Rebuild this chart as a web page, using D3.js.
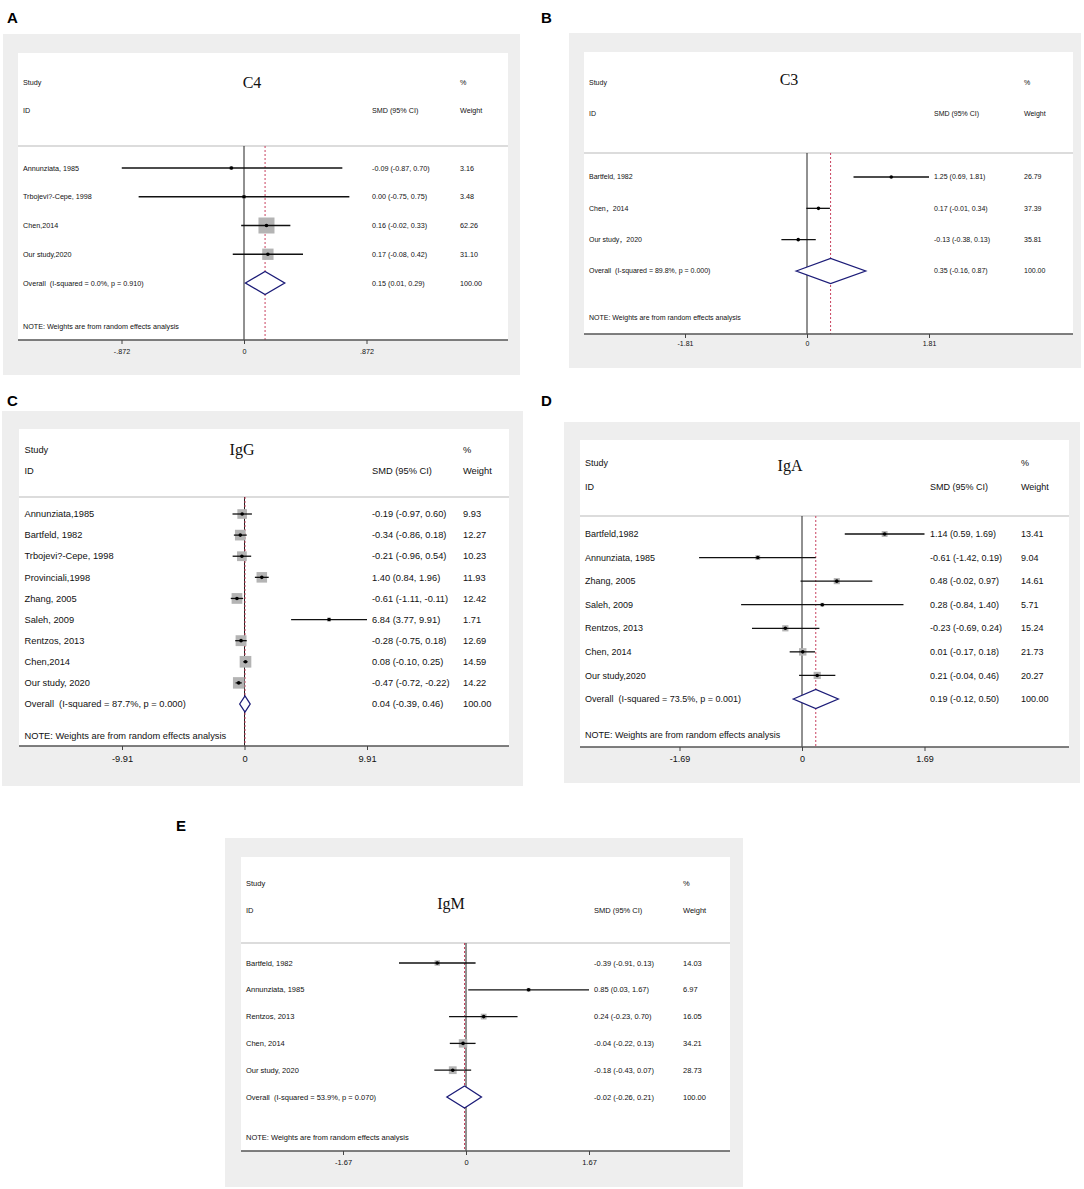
<!DOCTYPE html>
<html><head><meta charset="utf-8">
<script src="https://cdn.jsdelivr.net/npm/d3@7"></script>
<style>
body{margin:0;background:#fff}
text{white-space:pre}
</style></head>
<body>
<svg id="chart" width="1084" height="1189"></svg>
<script>
// ---------- DATA ----------
// Panel A : C4
const c4Studies = ["Annunziata, 1985", "Trbojevi?-Cepe, 1998", "Chen,2014", "Our study,2020"];
const c4Smd     = [-0.09, 0.00, 0.16, 0.17];
const c4Lower   = [-0.87, -0.75, -0.02, -0.08];
const c4Upper   = [0.70, 0.75, 0.33, 0.42];
const c4Weight  = [3.16, 3.48, 62.26, 31.10];
const c4Overall = [0.15, 0.01, 0.29];
const c4Het     = ["0.0%", "0.910"];
const c4Ticks   = [-0.872, 0, 0.872];
const c4TickLabels = ["-.872", "0", ".872"];

// Panel B : C3
const c3Studies = ["Bartfeld, 1982", "Chen，2014", "Our study，2020"];
const c3Smd     = [1.25, 0.17, -0.13];
const c3Lower   = [0.69, -0.01, -0.38];
const c3Upper   = [1.81, 0.34, 0.13];
const c3Weight  = [26.79, 37.39, 35.81];
const c3Overall = [0.35, -0.16, 0.87];
const c3Het     = ["89.8%", "0.000"];
const c3Ticks   = [-1.81, 0, 1.81];
const c3TickLabels = ["-1.81", "0", "1.81"];

// Panel C : IgG
const iggStudies = ["Annunziata,1985", "Bartfeld, 1982", "Trbojevi?-Cepe, 1998", "Provinciali,1998",
  "Zhang, 2005", "Saleh, 2009", "Rentzos, 2013", "Chen,2014", "Our study, 2020"];
const iggSmd    = [-0.19, -0.34, -0.21, 1.40, -0.61, 6.84, -0.28, 0.08, -0.47];
const iggLower  = [-0.97, -0.86, -0.96, 0.84, -1.11, 3.77, -0.75, -0.10, -0.72];
const iggUpper  = [0.60, 0.18, 0.54, 1.96, -0.11, 9.91, 0.18, 0.25, -0.22];
const iggWeight = [9.93, 12.27, 10.23, 11.93, 12.42, 1.71, 12.69, 14.59, 14.22];
const iggOverall = [0.04, -0.39, 0.46];
const iggHet    = ["87.7%", "0.000"];
const iggTicks  = [-9.91, 0, 9.91];
const iggTickLabels = ["-9.91", "0", "9.91"];

// Panel D : IgA
const igaStudies = ["Bartfeld,1982", "Annunziata, 1985", "Zhang, 2005", "Saleh, 2009",
  "Rentzos, 2013", "Chen, 2014", "Our study,2020"];
const igaSmd    = [1.14, -0.61, 0.48, 0.28, -0.23, 0.01, 0.21];
const igaLower  = [0.59, -1.42, -0.02, -0.84, -0.69, -0.17, -0.04];
const igaUpper  = [1.69, 0.19, 0.97, 1.40, 0.24, 0.18, 0.46];
const igaWeight = [13.41, 9.04, 14.61, 5.71, 15.24, 21.73, 20.27];
const igaOverall = [0.19, -0.12, 0.50];
const igaHet    = ["73.5%", "0.001"];
const igaTicks  = [-1.69, 0, 1.69];
const igaTickLabels = ["-1.69", "0", "1.69"];

// Panel E : IgM
const igmStudies = ["Bartfeld, 1982", "Annunziata, 1985", "Rentzos, 2013", "Chen, 2014", "Our study, 2020"];
const igmSmd    = [-0.39, 0.85, 0.24, -0.04, -0.18];
const igmLower  = [-0.91, 0.03, -0.23, -0.22, -0.43];
const igmUpper  = [0.13, 1.67, 0.70, 0.13, 0.07];
const igmWeight = [14.03, 6.97, 16.05, 34.21, 28.73];
const igmOverall = [-0.02, -0.26, 0.21];
const igmHet    = ["53.9%", "0.070"];
const igmTicks  = [-1.67, 0, 1.67];
const igmTickLabels = ["-1.67", "0", "1.67"];

const panelLetters = ["A", "B", "C", "D", "E"];
const panelTitles  = ["C4", "C3", "IgG", "IgA", "IgM"];

// ---------- LAYOUT (pixel geometry only) ----------
const layouts = [
  {letter:[7,18], gray:[3,34,520,375], white:[18,53,508,340], sep:146, studyY:82, idY:110, title:[252,82],
   firstRow:168, overallY:283, noteY:326, tickY:351, x0:244, tickPx:122.5, textX:23, smdX:372, wX:460,
   font:7.2, boxK:2.03, diamondH:11.5},
  {letter:[541,18], gray:[569,33,1081,368], white:[584,52,1073,334], sep:153, studyY:83, idY:114, title:[789,79],
   firstRow:177, overallY:271, noteY:318, tickY:344, x0:807, tickPx:122, textX:589, smdX:934, wX:1024,
   font:7.0, boxK:0, diamondH:12.5},
  {letter:[7,401], gray:[2,411,523,786], white:[19,429,509,746], sep:497, studyY:450, idY:471, title:[242,449],
   firstRow:514, overallY:704, noteY:736, tickY:759, x0:244.5, tickPx:122.5, textX:24.5, smdX:372, wX:463,
   font:9.3, boxK:3.05, diamondH:8},
  {letter:[541,401], gray:[564,422,1080,783], white:[580,440,1069,747], sep:516, studyY:463, idY:487, title:[790,465],
   firstRow:534, overallY:699, noteY:735, tickY:759, x0:802, tickPx:122.5, textX:585, smdX:930, wX:1021,
   font:9.0, boxK:1.6, diamondH:9.5},
  {letter:[176,826], gray:[225,838,743,1187], white:[241,857,730,1151], sep:943, studyY:883, idY:910, title:[451,903],
   firstRow:963, overallY:1097, noteY:1137, tickY:1162, x0:466, tickPx:123, textX:246, smdX:594, wX:683,
   font:7.5, boxK:1.45, diamondH:11}
];

const panelData = [
  {studies:c4Studies, smd:c4Smd, lo:c4Lower, hi:c4Upper, w:c4Weight, overall:c4Overall, het:c4Het, ticks:c4Ticks, tickLabels:c4TickLabels},
  {studies:c3Studies, smd:c3Smd, lo:c3Lower, hi:c3Upper, w:c3Weight, overall:c3Overall, het:c3Het, ticks:c3Ticks, tickLabels:c3TickLabels},
  {studies:iggStudies, smd:iggSmd, lo:iggLower, hi:iggUpper, w:iggWeight, overall:iggOverall, het:iggHet, ticks:iggTicks, tickLabels:iggTickLabels},
  {studies:igaStudies, smd:igaSmd, lo:igaLower, hi:igaUpper, w:igaWeight, overall:igaOverall, het:igaHet, ticks:igaTicks, tickLabels:igaTickLabels},
  {studies:igmStudies, smd:igmSmd, lo:igmLower, hi:igmUpper, w:igmWeight, overall:igmOverall, het:igmHet, ticks:igmTicks, tickLabels:igmTickLabels}
];

const svg = d3.select("#chart");
const f2 = v => v.toFixed(2);
const SANS = "'Liberation Sans', Arial, 'Noto Sans CJK SC', sans-serif";
const SERIF = "'Liberation Serif', 'Times New Roman', serif";

function drawPanel(L, D, letter, title) {
  const g = svg.append("g");
  // panel letter
  g.append("text").attr("x", L.letter[0]).attr("y", L.letter[1]).attr("dy", "0.36em")
    .attr("font-family", SANS).attr("font-weight", "bold").attr("font-size", 15).attr("fill", "#000").text(letter);
  // backgrounds
  g.append("rect").attr("x", L.gray[0]).attr("y", L.gray[1]).attr("width", L.gray[2]-L.gray[0])
    .attr("height", L.gray[3]-L.gray[1]).attr("fill", "#eeeeee");
  g.append("rect").attr("x", L.white[0]).attr("y", L.white[1]).attr("width", L.white[2]-L.white[0])
    .attr("height", L.white[3]-L.white[1]).attr("fill", "#ffffff");
  // separator
  g.append("line").attr("x1", L.white[0]).attr("x2", L.white[2]).attr("y1", L.sep).attr("y2", L.sep)
    .attr("stroke", "#dcdcdc").attr("stroke-width", 2);

  const t = D.ticks[2];
  const x = d3.scaleLinear().domain([-t, t]).range([L.x0 - L.tickPx, L.x0 + L.tickPx]);
  const rows = D.studies.concat(["__overall__"]);
  const y = d3.scalePoint().domain(rows).range([L.firstRow, L.overallY]);

  const txt = (xx, yy, s, opts={}) => g.append("text").attr("x", xx).attr("y", yy).attr("dy", "0.35em")
    .attr("font-family", opts.serif ? SERIF : SANS).attr("font-size", opts.size || L.font)
    .attr("text-anchor", opts.anchor || "start").attr("fill", "#111").text(s);

  // header
  txt(L.textX, L.studyY, "Study");
  txt(L.textX, L.idY, "ID");
  txt(L.wX, L.studyY, "%");
  txt(L.wX, L.idY, "Weight");
  txt(L.smdX, L.idY, "SMD (95% CI)");
  txt(L.title[0], L.title[1], title, {serif:true, size:16, anchor:"middle"});

  // zero line
  g.append("line").attr("x1", x(0)).attr("x2", x(0)).attr("y1", L.sep).attr("y2", L.white[3])
    .attr("stroke", "#222").attr("stroke-width", 1);
  // overall dashed line
  g.append("line").attr("x1", x(D.overall[0])).attr("x2", x(D.overall[0])).attr("y1", L.sep).attr("y2", L.white[3])
    .attr("stroke", "#c8405e").attr("stroke-width", 1).attr("stroke-dasharray", "2,2");

  // study rows
  const idx = d3.range(D.studies.length);
  g.selectAll(".box").data(idx).join("rect")
    .attr("x", i => x(D.smd[i]) - L.boxK*Math.sqrt(D.w[i])/2)
    .attr("y", i => y(D.studies[i]) - L.boxK*Math.sqrt(D.w[i])/2)
    .attr("width", i => L.boxK*Math.sqrt(D.w[i]))
    .attr("height", i => L.boxK*Math.sqrt(D.w[i]))
    .attr("fill", "#b4b4b4");
  g.selectAll(".ci").data(idx).join("line")
    .attr("x1", i => x(D.lo[i])).attr("x2", i => x(D.hi[i]))
    .attr("y1", i => y(D.studies[i])).attr("y2", i => y(D.studies[i]))
    .attr("stroke", "#111").attr("stroke-width", 1.3);
  g.selectAll(".pt").data(idx).join("circle")
    .attr("cx", i => x(D.smd[i])).attr("cy", i => y(D.studies[i])).attr("r", 1.8).attr("fill", "#000");
  idx.forEach(i => {
    const yy = y(D.studies[i]);
    txt(L.textX, yy, D.studies[i]);
    txt(L.smdX, yy, `${f2(D.smd[i])} (${f2(D.lo[i])}, ${f2(D.hi[i])})`);
    txt(L.wX, yy, f2(D.w[i]));
  });

  // overall
  const oy = y("__overall__");
  const [oe, ol, oh] = D.overall;
  g.append("path")
    .attr("d", `M${x(ol)},${oy} L${x(oe)},${oy - L.diamondH} L${x(oh)},${oy} L${x(oe)},${oy + L.diamondH} Z`)
    .attr("fill", "#fff").attr("stroke", "#1c1c78").attr("stroke-width", 1.3);
  txt(L.textX, oy, `Overall  (I-squared = ${D.het[0]}, p = ${D.het[1]})`);
  txt(L.smdX, oy, `${f2(oe)} (${f2(ol)}, ${f2(oh)})`);
  txt(L.wX, oy, "100.00");

  // note
  txt(L.textX, L.noteY, "NOTE: Weights are from random effects analysis");

  // axis
  g.append("line").attr("x1", L.white[0]).attr("x2", L.white[2]).attr("y1", L.white[3]).attr("y2", L.white[3])
    .attr("stroke", "#555").attr("stroke-width", 1.5);
  const axis = d3.axisBottom(x).tickValues(D.ticks).tickSize(4).tickPadding(0)
    .tickFormat((d, i) => D.tickLabels[i]);
  const ag = g.append("g").attr("transform", `translate(0,${L.white[3]})`).call(axis);
  ag.select(".domain").remove();
  ag.selectAll(".tick line").attr("stroke", "#444");
  ag.selectAll(".tick text").attr("y", L.tickY - L.white[3]).attr("dy", "0.35em")
    .attr("font-family", SANS).attr("font-size", L.font).attr("fill", "#111");
}

layouts.forEach((L, i) => drawPanel(L, panelData[i], panelLetters[i], panelTitles[i]));
</script>
</body></html>
